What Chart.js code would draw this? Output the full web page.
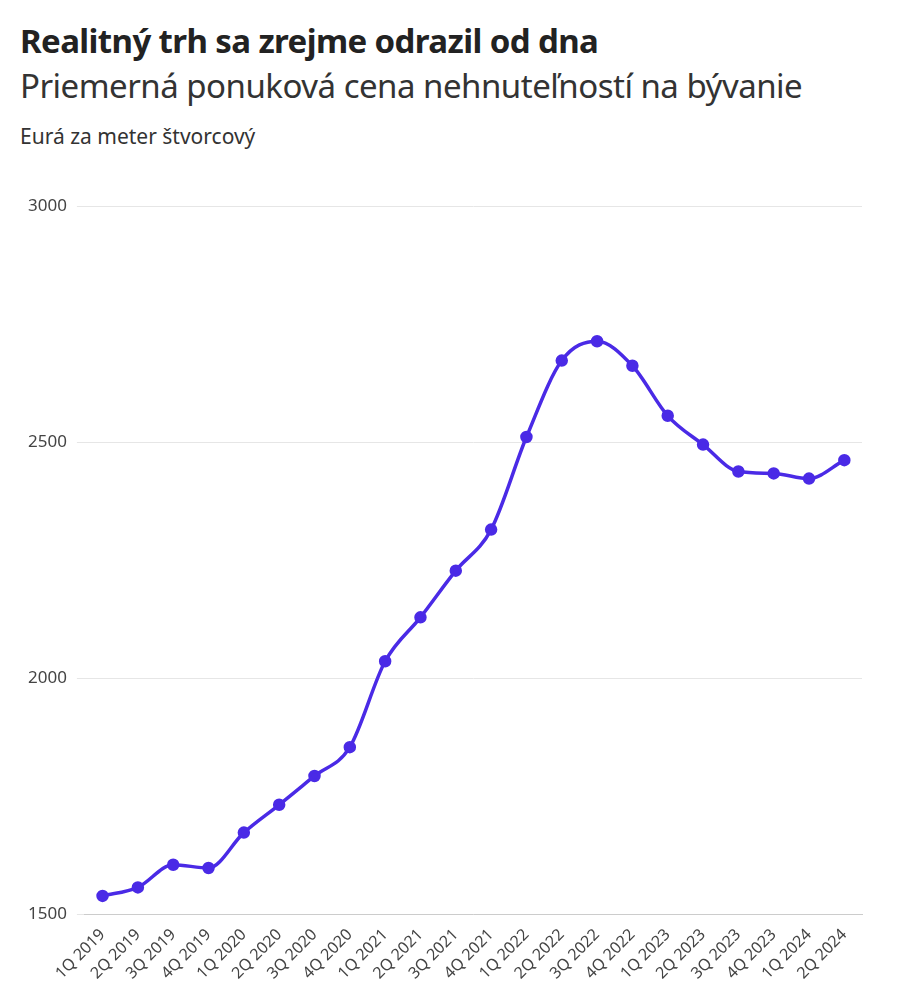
<!DOCTYPE html>
<html>
<head>
<meta charset="utf-8">
<script src="https://cdn.jsdelivr.net/npm/chart.js@4"></script>
<style>
  body { margin: 0; background: #fff; font-family: "Noto Sans", sans-serif; color: #333; }
  #head { position: absolute; left: 20px; top: 20px; }
  h1 { margin: 0; font-size: 33px; line-height: 42px; font-weight: 700; color: #222; letter-spacing: -0.6px; }
  h2 { margin: 2px 0 0; font-size: 33px; line-height: 44px; font-weight: 400; color: #333; letter-spacing: -0.5px; }
  #note { margin-top: 14px; font-size: 21px; color: #333; }
  #wrap { position: absolute; left: 0; top: 186px; width: 880px; height: 800px; }
</style>
</head>
<body>
<div id="head">
  <h1>Realitný trh sa zrejme odrazil od dna</h1>
  <h2>Priemerná ponuková cena nehnuteľností na bývanie</h2>
  <div id="note">Eurá za meter štvorcový</div>
</div>
<div id="wrap"><canvas id="chart"></canvas></div>
<script>
const quarters = ['1Q 2019','2Q 2019','3Q 2019','4Q 2019','1Q 2020','2Q 2020','3Q 2020','4Q 2020',
  '1Q 2021','2Q 2021','3Q 2021','4Q 2021','1Q 2022','2Q 2022','3Q 2022','4Q 2022',
  '1Q 2023','2Q 2023','3Q 2023','4Q 2023','1Q 2024','2Q 2024'];
const prices = [1539,1557,1605,1598,1673,1732,1793,1854,2036,2129,2228,2315,2511,2673,2714,2662,
  2556,2495,2438,2434,2423,2462];
const yTicks = [1500, 2000, 2500, 3000];

const ctx = document.getElementById('chart').getContext('2d');
new Chart(ctx, {
    type: 'line',
    data: {
        labels: quarters,
        datasets: [{
            data: prices,
            borderColor: '#4a2ae6',
            backgroundColor: '#4a2ae6',
            borderWidth: 3.5,
            pointRadius: 4.5,
            tension: 0.4,
            cubicInterpolationMode: 'monotone'
        }]
    },
    options: {
        responsive: true, maintainAspectRatio: false, animation: false,
        layout: { padding: { top: 6, right: 18, left: 18 } },
        plugins: { legend: { display: false }, tooltip: { enabled: false } },
        scales: {
            x: {
                offset: true,
                grid: { display: false },
                border: { color: '#ccc' },
                ticks: { color: '#444', font: { family: 'Noto Sans', size: 16 }, maxRotation: 45, minRotation: 45, autoSkip: false }
            },
            y: {
                min: 1500, max: 3000,
                afterBuildTicks: axis => { axis.ticks = yTicks.map(v => ({ value: v })); },
                grid: { color: '#e6e6e6' },
                border: { display: false },
                ticks: { color: '#444', font: { family: 'Noto Sans', size: 17 }, padding: 10, callback: v => String(v) }
            }
        }
    }
});
</script>
</body>
</html>
